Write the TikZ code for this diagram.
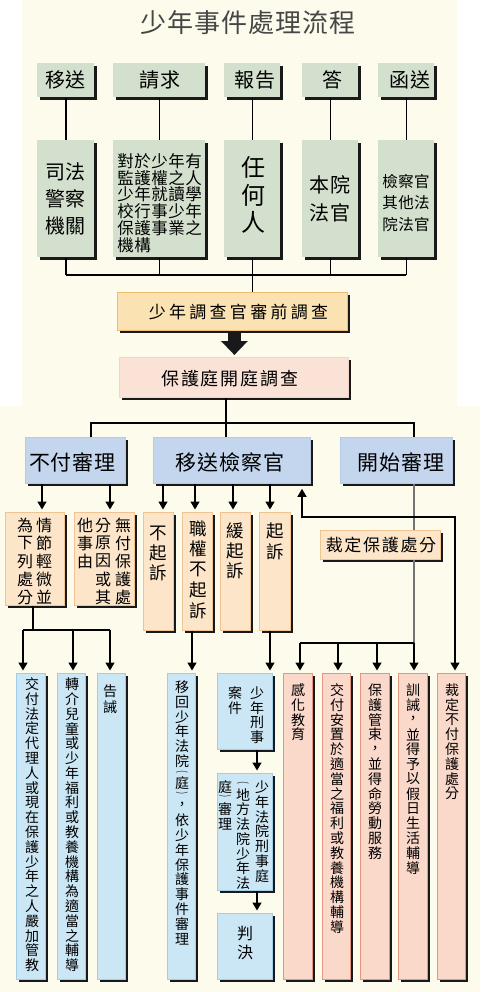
\documentclass[tikz,border=0pt]{standalone}
\usepackage{graphicx}
\usepackage{fontspec}
\setmainfont{Noto Sans CJK TC}
\usetikzlibrary{arrows.meta,shadows}
\ExplSyntaxOn
\NewDocumentCommand\hs{O{1em}m}{\hbox:n{\tl_map_inline:nn{#2}{\hbox_to_wd:nn{#1}{\hss ##1\hss}}}}
\NewDocumentCommand\vt{O{1em}m}{\vbox:n{\offinterlineskip
  \tl_map_inline:nn{#2}{\tl_if_in:nnTF{︵︶}{##1}
    {\hbox_to_wd:nn{1em}{\hss\vbox_to_ht:nn{\dim_eval:n{(#1)/2}}{\vss\hbox:n{\scalebox{0.9}[0.45]{##1}}\vss}\hss}}
    {\hbox_to_wd:nn{1em}{\hss\vbox_to_ht:nn{#1}{\vss\hbox:n{##1}\vss}\hss}}}}}
\ExplSyntaxOff
\definecolor{cG}{RGB}{211,224,205}
\definecolor{cO}{RGB}{251,226,178}
\definecolor{cOe}{RGB}{238,190,110}
\definecolor{cP}{RGB}{251,226,214}
\definecolor{cPe}{RGB}{245,212,198}
\definecolor{cB}{RGB}{196,214,238}
\definecolor{cBe}{RGB}{182,202,230}
\definecolor{cD}{RGB}{252,229,200}
\definecolor{cDe}{RGB}{240,195,145}
\definecolor{cL}{RGB}{203,230,244}
\definecolor{cLe}{RGB}{160,205,232}
\definecolor{cR}{RGB}{250,216,202}
\definecolor{cRe}{RGB}{228,150,130}
\definecolor{shd}{RGB}{25,25,25}
\definecolor{cream}{RGB}{253,252,236}
\definecolor{cT}{RGB}{70,70,70}
\newcommand\mkbox[6]{\node[#1, minimum width={(#5-#3)*1pt}, minimum height={(#6-#4)*1pt}] (#2) at (#3,#4) {};}
\newcommand\fs[2]{\fontsize{#1}{#2}\selectfont}
\tikzset{
  bx/.style={inner sep=0pt, anchor=north west, line width=0.8pt,
    drop shadow={shadow xshift=3pt, shadow yshift=-3pt, fill=shd, opacity=1}},
  gbx/.style={bx, fill=cG},
  obx/.style={bx, fill=cO, draw=cOe},
  pbx/.style={bx, fill=cP, draw=cPe},
  bbx/.style={bx, fill=cB, draw=cBe},
  dbx/.style={bx, fill=cD, draw=cDe},
  lbx/.style={bx, fill=cL, draw=cLe},
  rbx/.style={bx, fill=cR, draw=cRe},
  tx/.style={inner sep=0pt, text=black},
  vtx/.style={inner sep=0pt, anchor=north, text=black},
  ln/.style={line width=1.5pt, draw=black},
  gln/.style={line width=1.1pt, draw=black!55},
  arr/.style={ln, -{Triangle[width=9pt,length=8pt]}, shorten >=2.5pt},
}
\begin{document}
\begin{tikzpicture}[x=1pt,y=-1pt]
\useasboundingbox (0,0) rectangle (480,992);
\fill[white] (0,0) rectangle (480,992);
\fill[cream] (22,0) rectangle (457,406);
\fill[cream] (0,406) rectangle (480,992);
% title
\node[tx, text=cT, font=\fs{26}{26}] (title) at (248,23) {\hs[27pt]{少年事件處理流程}};
% row 1
\mkbox{gbx}{t1}{37}{63}{94}{97}
\mkbox{gbx}{t2}{113}{63}{205}{97}
\mkbox{gbx}{t3}{224}{63}{280}{97}
\mkbox{gbx}{t4}{302}{63}{358}{97}
\mkbox{gbx}{t5}{378}{63}{434}{97}
\node[tx, font=\fs{20}{20}] (tt1) at (65.5,80) {\hs[20.5pt]{移送}};
\node[tx, font=\fs{20}{20}] (tt2) at (160,80) {\hs[20.5pt]{請求}};
\node[tx, font=\fs{20}{20}] (tt3) at (255,80) {\hs[20.5pt]{報告}};
\node[tx, font=\fs{20}{20}] (tt4) at (332,80) {\hs[20.5pt]{答}};
\node[tx, font=\fs{20}{20}] (tt5) at (410,80) {\hs[20.5pt]{函送}};
% row 2
\mkbox{gbx}{s1}{37}{140}{94}{257}
\mkbox{gbx}{s2}{113}{140}{205}{257}
\mkbox{gbx}{s3}{224}{140}{280}{257}
\mkbox{gbx}{s4}{302}{140}{358}{257}
\mkbox{gbx}{s5}{378}{140}{434}{257}
\node[tx, align=center, font=\fs{20}{27}] (st1) at (65.5,198.5) {\hs[20.5pt]{司法}\\\hs[20.5pt]{警察}\\\hs[20.5pt]{機關}};
\node[tx, anchor=west, align=left, font=\fs{16.5}{16.8}] (st2) at (117,203) {\hs[17pt]{對於少年有}\\\hs[17pt]{監護權之人}\\\hs[17pt]{少年就讀學}\\\hs[17pt]{校行事少年}\\\hs[17pt]{保護事業之}\\\hs[17pt]{機構}};
\node[tx, align=center, font=\fs{24}{27.5}] (st3) at (253,195) {任\\何\\人};
\node[tx, align=center, font=\fs{20}{28}] (st4) at (330,199) {\hs[20.5pt]{本院}\\\hs[20.5pt]{法官}};
\node[tx, align=center, font=\fs{15.5}{21.5}] (st5) at (406,203) {\hs[16pt]{檢察官}\\\hs[16pt]{其他法}\\\hs[16pt]{院法官}};
\foreach \i in {1,...,5} {\draw[ln] (t\i.south) -- (s\i.north);}
\coordinate (bus1) at (0,275);
\foreach \i in {1,...,5} {\draw[ln] (s\i.south) -- (s\i.south |- bus1);}
\draw[ln] (s1.south |- bus1) -- (s5.south |- bus1);
% pre-trial investigation
\mkbox{obx}{A}{117}{292}{347}{330}
\node[tx, font=\fs{17}{17}] (At) at (238.5,312) {\hs[20.3pt]{少年調查官審前調查}};
\draw[ln] (s3.south |- bus1) -- (s3.south |- A.north);
\mkbox{pbx}{B}{119}{357}{348}{397}
\node[tx, font=\fs{18}{18}] (Bt) at (230,379) {\hs[20pt]{保護庭開庭調查}};
\draw[line width=13pt, draw=shd, -{Triangle[width=26pt,length=14pt]}] ([xshift=2pt]A.south) -- ([xshift=0.5pt,yshift=2pt]B.north);
% row 3
\mkbox{bbx}{C1}{25}{437}{125}{483}
\mkbox{bbx}{C2}{153}{437}{310}{483}
\mkbox{bbx}{C3}{340}{437}{452}{483}
\node[tx, font=\fs{21}{21}] (C1t) at (72.5,462) {\hs[22pt]{不付審理}};
\node[tx, font=\fs{21}{21}] (C2t) at (230,462) {\hs[22pt]{移送檢察官}};
\node[tx, font=\fs{21}{21}] (C3t) at (401,462) {\hs[22pt]{開始審理}};
\coordinate (bus2) at (0,423);
\draw[ln] (C1.north -| 91,0) |- (bus2 -| 414,0) -- (C3.north -| 414,0);
\draw[ln] (B.south -| 226,0) -- (C2.north -| 226,0);
% row 4
\mkbox{dbx}{D1}{5}{512}{64}{605}
\mkbox{dbx}{D2}{74}{512}{134}{605}
\mkbox{dbx}{D3}{143}{512}{173}{630}
\mkbox{dbx}{D4}{182}{512}{212}{630}
\mkbox{dbx}{D5}{220}{512}{250}{630}
\mkbox{dbx}{D6}{259}{512}{290}{630}
\mkbox{dbx}{E}{320}{530}{440}{559}
\node[vtx, font=\fs{16}{16}] (D1a) at (44,516) {\vt[18pt]{情節輕微並}};
\node[vtx, font=\fs{16}{16}] (D1b) at (25,516) {\vt[18pt]{為下列處分}};
\node[vtx, font=\fs{16}{16}] (D2a) at (123,516) {\vt[18pt]{無付保護處}};
\node[vtx, font=\fs{16}{16}] (D2b) at (103,516) {\vt[18pt]{分原因或其}};
\node[vtx, font=\fs{16}{16}] (D2c) at (85,516) {\vt[18pt]{他事由}};
\node[vtx, font=\fs{17.5}{17.5}] (D3t) at (158,523) {\vt[20pt]{不起訴}};
\node[vtx, font=\fs{17.5}{17.5}] (D4t) at (198,518) {\vt[20.5pt]{職權不起訴}};
\node[vtx, font=\fs{17.5}{17.5}] (D5t) at (235,521) {\vt[20pt]{緩起訴}};
\node[vtx, font=\fs{17.5}{17.5}] (D6t) at (275,520) {\vt[21pt]{起訴}};
\node[tx, font=\fs{17}{17}] (Et) at (381,545) {\hs[18.7pt]{裁定保護處分}};
\draw[arr] (C1.south -| 42,0) -- (D1.north -| 42,0);
\draw[arr] (C1.south -| 110,0) -- (D2.north -| 110,0);
\draw[arr] (C2.south -| 163,0) -- (D3.north -| 163,0);
\draw[arr] (C2.south -| 195,0) -- (D4.north -| 195,0);
\draw[arr] (C2.south -| 233,0) -- (D5.north -| 233,0);
\draw[arr] (C2.south -| 270,0) -- (D6.north -| 270,0);
\draw[gln] (C3.south -| 414,0) -- (E.north -| 414,0);
% row 5
\mkbox{lbx}{F1}{16}{673}{45}{979}
\mkbox{lbx}{F2}{57}{673}{85}{979}
\mkbox{lbx}{F3}{97}{673}{125}{979}
\mkbox{lbx}{F4}{167}{673}{195}{979}
\mkbox{lbx}{G1}{217}{673}{272}{749}
\mkbox{lbx}{G2}{217}{773}{272}{890}
\mkbox{lbx}{G3}{217}{913}{272}{979}
\mkbox{rbx}{H1}{283}{673}{312}{979}
\mkbox{rbx}{H2}{322}{673}{350}{979}
\mkbox{rbx}{H3}{360}{673}{389}{979}
\mkbox{rbx}{H4}{398}{673}{427}{979}
\mkbox{rbx}{H5}{437}{673}{465}{979}
\node[vtx, font=\fs{14}{14}] (F1t) at (32,676.6) {\vt[14.8pt]{交付法定代理人或現在保護少年之人嚴加管教}};
\node[vtx, font=\fs{14}{14}] (F2t) at (72,676.6) {\vt[14.8pt]{轉介兒童或少年福利或教養機構為適當之輔導}};
\node[vtx, font=\fs{14}{14}] (F3t) at (110,683) {\vt[16pt]{告誡}};
\node[vtx, font=\fs{14}{14}] (F4t) at (182,679.6) {\vt[14.8pt]{移回少年法院︵庭︶，依少年保護事件審理}};
\node[vtx, font=\fs{14}{14}] (G1a) at (257,685.6) {\vt[14.8pt]{少年刑事}};
\node[vtx, font=\fs{14}{14}] (G1b) at (235,685.6) {\vt[14.8pt]{案件}};
\node[vtx, font=\fs{14}{14}] (G2a) at (262,779.6) {\vt[14.8pt]{少年法院刑事庭}};
\node[vtx, font=\fs{14}{14}] (G2b) at (243,779.6) {\vt[14.8pt]{︵地方法院少年法}};
\node[vtx, font=\fs{14}{14}] (G2c) at (225,779.6) {\vt[14.8pt]{庭︶審理}};
\node[vtx, font=\fs{16}{16}] (G3t) at (245,923.5) {\vt[19pt]{判決}};
\node[vtx, font=\fs{14}{14}] (H1t) at (298,682.6) {\vt[14.8pt]{感化教育}};
\node[vtx, font=\fs{14}{14}] (H2t) at (337,682.6) {\vt[14.8pt]{交付安置於適當之福利或教養機構輔導}};
\node[vtx, font=\fs{14}{14}] (H3t) at (375,682.6) {\vt[14.8pt]{保護管束，並得命勞動服務}};
\node[vtx, font=\fs{14}{14}] (H4t) at (413,682.6) {\vt[14.8pt]{訓誡，並得予以假日生活輔導}};
\node[vtx, font=\fs{14}{14}] (H5t) at (452,682.6) {\vt[14.8pt]{裁定不付保護處分}};
% connectors to row 5
\coordinate (bus4) at (0,630);
\draw[ln] (D1.south -| 33,0) -- (bus4 -| 33,0);
\draw[ln] (bus4 -| 23,0) -- (bus4 -| 110,0);
\draw[arr] (bus4 -| 23,0) -- (F1.north -| 23,0);
\draw[arr] (bus4 -| 73,0) -- (F2.north -| 73,0);
\draw[arr] (bus4 -| 110,0) -- (F3.north -| 110,0);
\draw[arr] (D4.south -| 192,0) -- (F4.north -| 192,0);
\draw[arr] (D6.south -| 270,0) -- (G1.north -| 270,0);
\draw[arr] (G1.south -| 257,0) -- (G2.north -| 257,0);
\draw[arr] (G2.south -| 257,0) -- (G3.north -| 257,0);
\coordinate (bus3) at (0,643);
\draw[gln] (E.south -| 414,0) -- (bus3 -| 414,0);
\draw[ln] (bus3 -| 300,0) -- (bus3 -| 414,0);
\draw[arr] (bus3 -| 300,0) -- (H1.north -| 300,0);
\draw[arr] (bus3 -| 338,0) -- (H2.north -| 338,0);
\draw[arr] (bus3 -| 377,0) -- (H3.north -| 377,0);
\draw[arr] (bus3 -| 414,0) -- (H4.north -| 414,0);
\coordinate (upc) at (455,517);
\draw[ln, {Triangle[width=9pt,length=8pt]}-{Triangle[width=9pt,length=8pt]}, shorten <=5pt, shorten >=2.5pt] (C2.south -| 302,0) |- (upc) -- (H5.north -| 455,0);
\end{tikzpicture}
\end{document}
